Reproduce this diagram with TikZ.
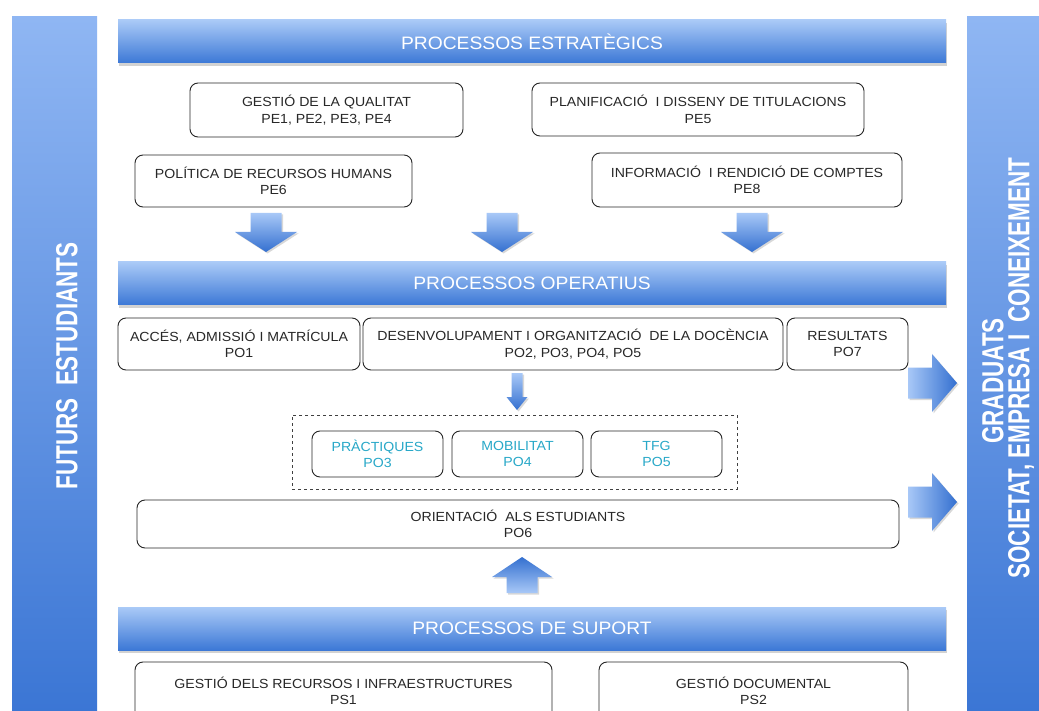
\documentclass[tikz,border=0pt]{standalone}
\usepackage{fontspec}
\setmainfont{Liberation Sans}[FakeStretch=1.07]
\usepackage{graphicx}
\usepackage{tikz}
\usetikzlibrary{calc}
\usetikzlibrary{shadows}

\definecolor{barlight}{RGB}{170,202,247}
\definecolor{bardark}{RGB}{60,120,214}
\definecolor{sidelight}{RGB}{143,182,243}
\definecolor{sidedark}{RGB}{58,117,212}
\definecolor{arrlight}{RGB}{168,200,247}
\definecolor{arrdark}{RGB}{52,112,208}
\definecolor{txtgray}{RGB}{40,40,40}
\definecolor{tealtxt}{RGB}{40,168,200}

\begin{document}
\begin{tikzpicture}[x=1pt,y=-1pt,
    box/.style={draw=black!85, line width=0.9pt, rounded corners=8pt, fill=white,
        align=center, text=txtgray, font=\fontsize{13.2}{16.5}\selectfont, inner sep=0pt},
    subbox/.style={box, text=tealtxt, minimum width=131pt, minimum height=46pt},
    bar/.style={top color=barlight, bottom color=bardark, text=white,
        drop shadow={opacity=0.35, shadow xshift=1pt, shadow yshift=-3pt},
        font=\fontsize{18}{20}\selectfont, minimum width=828pt, minimum height=43pt, inner sep=0pt},
    side/.style={top color=sidelight, bottom color=sidedark},
    sidetxt/.style={rotate=90, text=white, font=\fontsize{21}{24}\selectfont\bfseries, inner sep=0pt},
    blk/.style={drop shadow={opacity=0.3, shadow xshift=1.5pt, shadow yshift=-1.5pt}},
  ]
    \useasboundingbox (0,0) rectangle (1039,711);
    \clip (0,0) rectangle (1039,711);
    \fill[white] (0,0) rectangle (1039,711);

    % columnes laterals
    \path[side] (12,17) rectangle (97,720);
    \path[side] (967,17) rectangle (1045,720);
    \node[sidetxt] (futurs) at (67,366) {\scalebox{1}[1.45]{FUTURS\ \ ESTUDIANTS}};
    \node[sidetxt] (graduats) at (993,381) {\scalebox{1}[1.45]{GRADUATS}};
    \node[sidetxt] (societat) at (1021,368) {\scalebox{1}[1.45]{SOCIETAT,\ EMPRESA\ I\ \ CONEIXEMENT}};

    % barres
    \node[bar] (pe) at (532,41.5) {PROCESSOS ESTRATÈGICS};
    \node[bar] (po) at (532,283.5) {PROCESSOS OPERATIUS};
    \node[bar] (ps) at (532,628.5) {PROCESSOS DE SUPORT};

    % estrategics
    \node[box, minimum width=273pt, minimum height=54pt] (qualitat) at (326.5,110) {GESTIÓ\ DE LA QUALITAT\\PE1, PE2, PE3, PE4};
    \node[box, minimum width=332pt, minimum height=53pt] (planif) at (698,109.5) {PLANIFICACIÓ\ \ I DISSENY DE TITULACIONS\\PE5};
    \node[box, minimum width=277pt, minimum height=52pt] (rrhh) at (273.5,181) {POLÍTICA DE RECURSOS HUMANS\\PE6};
    \node[box, minimum width=310pt, minimum height=54pt] (info) at (747,180) {INFORMACIÓ\ \ I RENDICIÓ DE COMPTES\\PE8};

    \foreach \x in {266,502,752}
        \path[blk, top color=arrlight, bottom color=arrdark] (\x-15.5,213) -- (\x+15.5,213) -- (\x+15.5,232) -- (\x+31,232)
            -- (\x,252) -- (\x-31,232) -- (\x-15.5,232) -- cycle;

    % operatius
    \node[box, minimum width=242pt, minimum height=52pt] (acces) at (239,344) {ACCÉS, ADMISSIÓ\ I MATRÍCULA\\PO1};
    \node[box, minimum width=420pt, minimum height=52pt] (docencia) at (573,344) {DESENVOLUPAMENT I ORGANITZACIÓ\ \ DE LA DOCÈNCIA\\PO2, PO3, PO4, PO5};
    \node[box, minimum width=121pt, minimum height=52pt] (resultats) at (847.5,344) {RESULTATS\\PO7};

    \path[blk, top color=arrlight, bottom color=arrdark] (511.5,373) -- (522.5,373) -- (522.5,397) -- (527.5,397)
        -- (517,410) -- (506.5,397) -- (511.5,397) -- cycle;

    \node[draw=black!75, dashed, line width=0.8pt, minimum width=445pt, minimum height=74pt, inner sep=0pt] (grup) at (514.5,452) {};
    \node[subbox] (practiques) at (377.5,454) {PRÀCTIQUES\\PO3};
    \node[subbox] (mobilitat) at (517.5,454) {MOBILITAT\\PO4};
    \node[subbox] (tfg) at (656.5,454) {TFG\\PO5};

    \node[box, minimum width=762pt, minimum height=48pt] (orientacio) at (518,524) {ORIENTACIÓ\ \ ALS ESTUDIANTS\\PO6};

    \foreach \y in {383,502}
        \path[blk, left color=arrlight, right color=arrdark] (908,\y-15.5) -- (932,\y-15.5) -- (932,\y-29)
            -- (957,\y) -- (932,\y+29) -- (932,\y+15.5) -- (908,\y+15.5) -- cycle;

    \path[blk, bottom color=arrlight, top color=arrdark] (506.5,593) -- (537.5,593) -- (537.5,577) -- (552,577)
        -- (522,557) -- (492,577) -- (506.5,577) -- cycle;

    % suport
    \node[box, minimum width=417pt, minimum height=58pt] (recursos) at (343.5,691) {GESTIÓ\ DELS RECURSOS I INFRAESTRUCTURES\\PS1};
    \node[box, minimum width=309pt, minimum height=58pt] (documental) at (753.5,691) {GESTIÓ\ DOCUMENTAL\\PS2};
\end{tikzpicture}
\end{document}
